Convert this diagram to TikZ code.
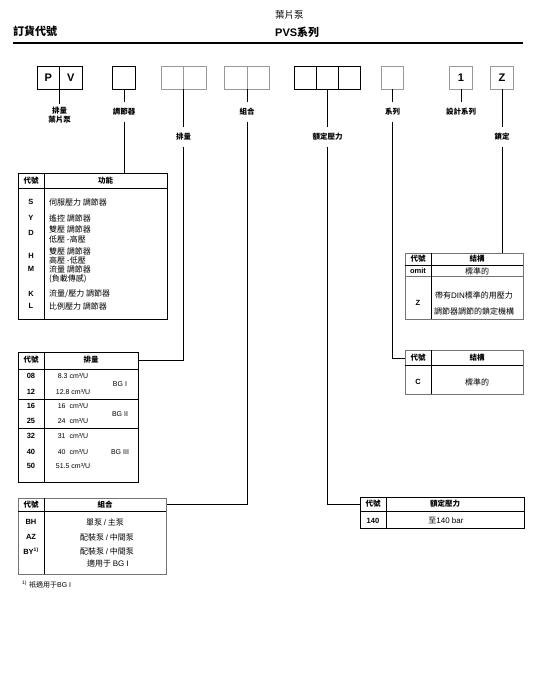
\documentclass[tikz,border=0pt]{standalone}
\usepackage{fontspec}
\setmainfont{Liberation Sans}
\newfontfamily\zhfont{Noto Sans CJK TC}
\newcommand\zh[1]{{\zhfont #1}}
\newcommand\la[1]{{\rmfamily #1}}
\tikzset{
  cell/.style={draw=black, line width=0.9pt, minimum width=22.5pt, minimum height=23pt, inner sep=0pt, outer sep=0pt, font=\bfseries\fontsize{11}{11}\selectfont},
  gcell/.style={cell, draw=black!40},
  lbl/.style={inner xsep=1pt, inner ysep=6pt, text height=6pt, text depth=1pt, font=\zhfont\bfseries\fontsize{7.5}{9}\selectfont},
  conn/.style={line width=0.9pt, draw=black},
  frame/.style={draw=black, line width=0.8pt},
  gframe/.style={draw=black!55, line width=0.8pt},
  hline/.style={draw=black, line width=1pt},
  rline/.style={draw=black, line width=0.6pt},
  code/.style={inner sep=0pt, font=\bfseries\fontsize{7.5}{8}\selectfont},
  hd/.style={inner sep=0pt, font=\zhfont\bfseries\fontsize{7.5}{8}\selectfont},
  zt/.style={inner sep=0pt, font=\zhfont\fontsize{8}{8}\selectfont},
  zl/.style={inner sep=0pt, anchor=west, font=\zhfont\fontsize{8}{8}\selectfont},
  lt/.style={inner sep=0pt, font=\fontsize{7}{8}\selectfont},
}
\begin{document}
\begin{tikzpicture}[x=1pt,y=-1pt]
\useasboundingbox[fill=white] (0,0) rectangle (540,699);
% header
\node[anchor=west, inner sep=0pt, font=\zhfont\bfseries\fontsize{11}{11}\selectfont] (title) at (13,31) {訂貨代號};
\node[anchor=west, inner sep=0pt, font=\zhfont\fontsize{9.5}{10}\selectfont] (sub1) at (275,15) {葉片泵};
\node[anchor=west, inner sep=0pt, font=\bfseries\fontsize{11}{11}\selectfont] (sub2) at (275,32) {PVS\zh{系列}};
\coordinate (rl) at (13,43);
\coordinate (rr) at (523,43);
\draw[line width=2.6pt] (rl) -- (rr);
% code boxes
\node[cell] (p1) at (48.25,77.5) {P};
\node[cell] (p2) at (70.75,77.5) {V};
\node[cell] (r1) at (124,77.5) {};
\node[gcell] (d1) at (172.25,77.5) {};
\node[gcell] (d2) at (194.75,77.5) {};
\node[gcell] (c1) at (235.75,77.5) {};
\node[gcell] (c2) at (258.25,77.5) {};
\node[cell] (e1) at (305.5,77.5) {};
\node[cell] (e2) at (327.5,77.5) {};
\node[cell] (e3) at (349.5,77.5) {};
\node[gcell] (s1) at (392.5,77.5) {};
\node[gcell] (n1) at (461,77.5) {1};
\node[gcell] (z1) at (502,77.5) {Z};
% labels
\node[lbl, text height=, text depth=, inner ysep=3pt, align=center, font=\zhfont\bfseries\fontsize{7.5}{8.5}\selectfont] (lp) at (59.5,115) {排量\\葉片泵};
\node[lbl] (lr) at (124,112) {調節器};
\node[lbl] (lc) at (247,112) {組合};
\node[lbl] (ls) at (392.5,112) {系列};
\node[lbl] (ln) at (461,112) {設計系列};
\node[lbl] (ld) at (183.5,137) {排量};
\node[lbl] (le) at (327.5,137) {額定壓力};
\node[lbl] (lz) at (502,137) {鎖定};
% connector end points on tables
\coordinate (t1c) at (124,173);
\coordinate (t2c) at (138,360);
\coordinate (t3c) at (166,504);
\coordinate (t4c) at (360,504);
\coordinate (t5c) at (405,358);
\coordinate (t6c) at (502,253);
% connectors
\draw[conn] (p1.south east) -- (lp.north);
\draw[conn] (r1.south) -- (lr.north);
\draw[conn] (lr.south) -- (t1c);
\draw[conn] (d1.south east) -- (ld.north);
\draw[conn] (ld.south) |- (t2c);
\draw[conn] (c1.south east) -- (lc.north);
\draw[conn] (lc.south) |- (t3c);
\draw[conn] (e2.south) -- (le.north);
\draw[conn] (le.south) |- (t4c);
\draw[conn] (s1.south) -- (ls.north);
\draw[conn] (ls.south) |- (t5c);
\draw[conn] (n1.south) -- (ln.north);
\draw[conn] (z1.south) -- (lz.north);
\draw[conn] (lz.south) -- (t6c);

% ---------- table 1: function ----------
\draw[frame] (18,173) rectangle (167,319);
\draw[hline] (18,188) -- (167,188);
\draw[frame] (44,173) -- (44,319);
\node[hd] (t1h1) at (31,181) {代號};
\node[hd] (t1h2) at (105.5,181) {功能};
\node[code] (t1s) at (31,202) {S};
\node[zl] (t1sd) at (49,202) {伺服壓力 調節器};
\node[code] (t1y) at (31,218) {Y};
\node[zl] (t1yd) at (49,218) {遙控 調節器};
\node[code] (t1d) at (31,233) {D};
\node[zl] (t1dd1) at (49,229) {雙壓 調節器};
\node[zl] (t1dd2) at (49,239) {低壓 -高壓};
\node[code] (t1hh) at (31,256) {H};
\node[zl] (t1hd1) at (49,251) {雙壓 調節器};
\node[zl] (t1hd2) at (49,260) {高壓 -低壓};
\node[code] (t1m) at (31,269) {M};
\node[zl] (t1md1) at (49,269) {流量 調節器};
\node[zl] (t1md2) at (49,279) {(負載傳感)};
\node[code] (t1k) at (31,294) {K};
\node[zl] (t1kd) at (49,294) {流量/壓力 調節器};
\node[code] (t1l) at (31,306) {L};
\node[zl] (t1ld) at (49,306) {比例壓力 調節器};

% ---------- table 2: displacement ----------
\draw[frame] (18,352) rectangle (138,482);
\draw[hline] (18,369) -- (138,369);
\draw[rline] (18,399) -- (138,399);
\draw[rline] (18,428) -- (138,428);
\draw[frame] (44,352) -- (44,482);
\node[hd] (t2h1) at (31,360) {代號};
\node[hd] (t2h2) at (91,360) {排量};
\node[code] (t2a) at (31,376) {08};
\node[lt] (t2av) at (73,376) {8.3 cm³/U};
\node[code] (t2b) at (31,392) {12};
\node[lt] (t2bv) at (73,392) {12.8 cm³/U};
\node[code] (t2c0) at (31,406) {16};
\node[lt] (t2cv) at (73,406) {16\ \ cm³/U};
\node[code] (t2d) at (31,421) {25};
\node[lt] (t2dv) at (73,421) {24\ \ cm³/U};
\node[code] (t2e) at (31,436) {32};
\node[lt] (t2ev) at (73,436) {31\ \ cm³/U};
\node[code] (t2f) at (31,452) {40};
\node[lt] (t2fv) at (73,452) {40\ \ cm³/U};
\node[code] (t2g) at (31,466) {50};
\node[lt] (t2gv) at (73,466) {51.5 cm³/U};
\node[lt] (t2bg1) at (120,384) {BG I};
\node[lt] (t2bg2) at (120,414) {BG II};
\node[lt] (t2bg3) at (120,452) {BG III};

% ---------- table 3: combination ----------
\draw[gframe] (18,498) rectangle (166,574);
\draw[hline] (18,511) -- (166,511);
\draw[frame] (44,498) -- (44,574);
\node[hd] (t3h1) at (31,505) {代號};
\node[hd] (t3h2) at (105,505) {組合};
\node[code] (t3a) at (31,522) {BH};
\node[zt] (t3ad) at (105,522) {單泵 \la{/} 主泵};
\node[code] (t3b) at (31,537) {AZ};
\node[zt] (t3bd) at (107,537) {配裝泵 \la{/} 中間泵};
\node[code] (t3c) at (31,551) {BY\textsuperscript{\fontsize{5}{5}\selectfont 1)}};
\node[zt] (t3cd1) at (107,551) {配裝泵 \la{/} 中間泵};
\node[zt] (t3cd2) at (108,563) {適用于 \la{BG I}};
\node[anchor=west, inner sep=0pt, font=\fontsize{7}{8}\selectfont] (fn) at (22,584) {\textsuperscript{\fontsize{5}{5}\selectfont 1)}\ \zh{衹適用于}BG I};

% ---------- table 4: rated pressure ----------
\draw[frame] (360,497) rectangle (524,528);
\draw[hline] (360,511) -- (524,511);
\draw[frame] (386,497) -- (386,528);
\node[hd] (t4h1) at (373,504) {代號};
\node[hd] (t4h2) at (445,504) {額定壓力};
\node[code] (t4a) at (373,521) {140};
\node[zt] (t4ad) at (446,521) {至\la{140 bar}};

% ---------- table 5: series ----------
\draw[gframe] (405,350) rectangle (523,394);
\draw[hline] (405,365) -- (523,365);
\draw[frame] (431,350) -- (431,394);
\node[hd] (t5h1) at (418,358) {代號};
\node[hd] (t5h2) at (477,358) {結構};
\node[code] (t5a) at (418,382) {C};
\node[zt] (t5ad) at (477,382) {標準的};

% ---------- table 6: lock ----------
\draw[gframe] (405,253) rectangle (523,319);
\draw[hline] (405,265) -- (523,265);
\draw[gframe] (405,276) -- (523,276);
\draw[frame] (431,253) -- (431,319);
\node[hd] (t6h1) at (418,259) {代號};
\node[hd] (t6h2) at (477,259) {結構};
\node[code] (t6a) at (418,271) {omit};
\node[zt] (t6ad) at (477,271) {標準的};
\node[code] (t6b) at (418,303) {Z};
\node[zt] (t6bd1) at (474,295) {帶有\la{DIN}標準的用壓力};
\node[zt] (t6bd2) at (474,311) {調節器調節的鎖定機構};
\end{tikzpicture}
\end{document}
